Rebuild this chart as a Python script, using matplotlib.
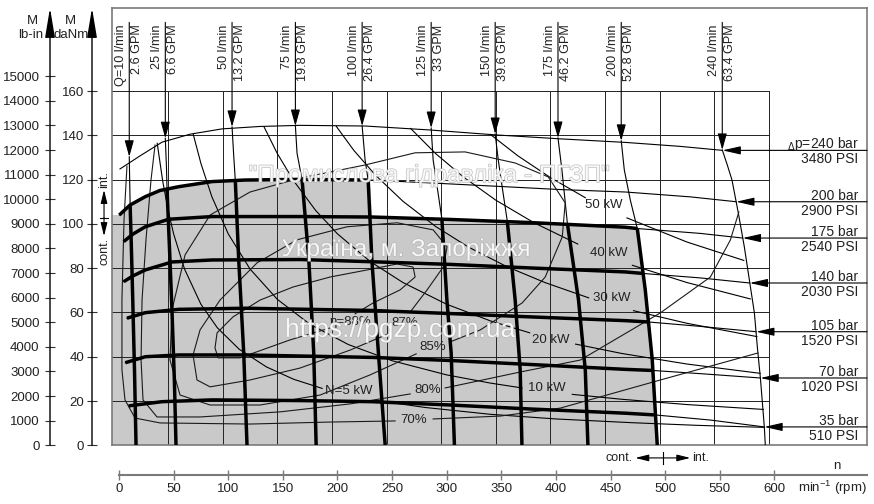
import numpy as np
import matplotlib.pyplot as plt
import matplotlib.patheffects as pe

plt.rcParams['font.family'] = ['Liberation Sans', 'DejaVu Sans']

# ----------------------------- axis values -----------------------------
rpm_ticks = np.arange(0, 601, 50)
danm_ticks = np.arange(0, 161, 20)
lbin_ticks = np.arange(0, 15001, 1000)
grid_rpm = np.arange(45, 596, 50)      # chart grid sits ~5 rpm left of the scale
grid_danm = np.arange(20, 161, 20)
LBIN_PER_DANM = 90

# ---------------------- pressure curves (rpm, daNm) ----------------------
p240 = np.array([(0.9, 124.8), (19.2, 130.7), (39.4, 136.9), (65.0, 140.5), (94.3, 142.9),
                 (129.1, 144.0), (165.8, 144.5), (225.4, 144.2), (284.9, 142.4), (344.4, 140.2),
                 (404.0, 138.4), (463.5, 136.8), (513.9, 135.0), (552.5, 133.2)])
p200 = np.array([(0.3, 104.0), (10.1, 108.5), (24.1, 112.3), (37.6, 115.1), (54.7, 116.8),
                 (85.2, 119.1), (115.4, 119.8), (165.8, 120.1), (229.9, 119.8), (284.9, 118.5),
                 (349.0, 116.9), (404.0, 115.5), (463.5, 114.4), (523.1, 112.2), (565.0, 110.0)])
p175 = np.array([(4.3, 92.0), (12.8, 95.4), (24.1, 98.7), (45.5, 102.1), (85.2, 103.3),
                 (165.8, 103.3), (231.7, 103.1), (303.2, 102.0), (376.5, 100.6), (463.5, 98.5),
                 (474.5, 97.9), (532.2, 95.7), (571.0, 93.6)])
p140 = np.array([(4.3, 73.9), (12.8, 76.5), (24.1, 79.2), (48.5, 82.8), (85.2, 83.7),
                 (165.8, 83.9), (231.7, 82.9), (303.2, 81.7), (376.5, 80.1), (463.5, 78.3),
                 (480.0, 77.6), (532.2, 75.6), (577.4, 73.3)])
p105 = np.array([(7.3, 57.4), (24.1, 59.9), (54.7, 61.4), (115.7, 61.9), (231.7, 60.9),
                 (303.2, 59.5), (376.5, 58.0), (463.5, 56.3), (484.7, 55.7), (532.2, 53.7),
                 (583.3, 51.3)])
p70 = np.array([(5.8, 37.3), (24.1, 40.0), (54.7, 40.8), (115.7, 40.8), (231.7, 39.7),
                (303.2, 38.3), (376.5, 36.5), (463.5, 34.3), (488.8, 33.8), (536.8, 32.2),
                (587.2, 30.4)])
p35 = np.array([(8.9, 17.8), (39.4, 19.7), (85.2, 20.5), (165.8, 20.2), (231.7, 19.7),
                (303.2, 18.2), (376.5, 16.4), (463.5, 14.5), (491.2, 13.7), (541.4, 11.4),
                (590.8, 8.3)])
pressure_curves = [p240, p200, p175, p140, p105, p70, p35]
pressure_thick_end = [None, 229.9, 474.5, 480.0, 484.7, 488.8, 491.2]
bar_labels = [r'$_{\Delta}$p=240 bar', '200 bar', '175 bar', '140 bar', '105 bar', '70 bar',
              '35 bar']
psi_labels = ['3480 PSI', '2900 PSI', '2540 PSI', '2030 PSI', '1520 PSI', '1020 PSI', '510 PSI']

# ------------------------ flow curves (rpm, daNm) ------------------------
q10 = np.array([(9.4, 130.3), (10.2, 108.5), (11.3, 90.0), (12.6, 65.7), (14.2, 33.9), (15.6, 0)])
q25 = np.array([(42.4, 138.7), (43.5, 125.0), (44.0, 115.3), (46.3, 88.2), (48.5, 61.1),
                (50.7, 29.5), (52.2, 0)])
q50 = np.array([(103.5, 143.8), (105.0, 131.0), (106.5, 119.5), (109.6, 83.7), (114.2, 41.7),
                (117.2, 0)])
q75 = np.array([(161.5, 144.2), (163.0, 131.9), (167.6, 120.0), (173.8, 83.7), (178.3, 41.6),
                (180.5, 0)])
q100 = np.array([(222.6, 144.2), (225.3, 128.9), (228.1, 119.8), (229.7, 103.2), (231.5, 83.7),
                 (237.5, 41.7), (243.7, 0)])
q125 = np.array([(285.8, 143.3), (287.6, 128.9), (291.3, 116.7), (295.6, 102.2), (300.2, 65.6),
                 (304.1, 41.7), (307.1, 0)])
q150 = np.array([(344.4, 140.6), (347.2, 128.9), (350.8, 116.7), (355.5, 101.2), (362.7, 65.6),
                 (367.3, 34.0), (368.9, 0)])
q175 = np.array([(401.9, 138.8), (405.5, 124.4), (410.5, 100.2), (420.7, 65.6), (426.9, 34.0),
                 (429.3, 0)])
q200 = np.array([(459.8, 137.5), (462.6, 124.4), (468.1, 110.8), (474.5, 97.9), (481.8, 70.2),
                 (488.2, 38.6), (492.8, 0)])
q240 = np.array([(552.3, 133.4), (556.9, 126.6), (561.2, 119.8), (567.0, 104.9), (572.5, 89.6),
                 (577.1, 74.7), (581.7, 59.8), (584.4, 44.4), (587.2, 30.4), (590.8, 8.3),
                 (591.7, 0)])
flow_curves = [q10, q25, q50, q75, q100, q125, q150, q175, q200, q240]
flow_thick_top = [108.5, 115.3, 119.5, 120.0, 119.8, 102.2, 101.2, 100.2, 97.9, None]
lpm_labels = ['Q=10 l/min', '25 l/min', '50 l/min', '75 l/min', '100 l/min', '125 l/min',
              '150 l/min', '175 l/min', '200 l/min', '240 l/min']
gpm_labels = ['2.6 GPM', '6.6 GPM', '13.2 GPM', '19.8 GPM', '26.4 GPM', '33 GPM',
              '39.6 GPM', '46.2 GPM', '52.8 GPM', '63.4 GPM']

# ----------------- power lines, split where the label sits -----------------
kw5_a = np.array([(35, 136.4), (40, 119.4), (45, 106.1), (50, 95.5), (60, 79.6), (75, 63.7),
                  (90, 53.1), (110, 43.4), (135, 35.4), (160, 29.8), (186, 25.7)])
kw5_b = np.array([(235, 20.3), (280, 17.1), (340, 14.0), (400, 11.9), (470, 10.2), (530, 9.0),
                  (591, 8.1)])
kw10_a = np.array([(68, 140.4), (75, 127.3), (85, 112.3), (100, 95.5), (120, 79.6), (145, 65.9),
                   (175, 54.6), (210, 45.5), (250, 38.2), (300, 31.8), (340, 28.1), (369, 25.9)])
kw10_b = np.array([(415, 23.0), (460, 20.8), (520, 18.4), (590, 16.2)])
kw20_a = np.array([(133, 143.6), (145, 131.7), (160, 119.4), (180, 106.1), (200, 95.5),
                   (230, 83.0), (260, 73.5), (300, 63.7), (340, 56.2), (376, 50.8)])
kw20_b = np.array([(418, 45.7), (460, 41.5), (520, 36.7), (587, 32.5)])
kw30_a = np.array([(199, 144.0), (215, 133.2), (235, 121.9), (260, 110.2), (290, 98.8),
                   (320, 89.5), (355, 80.7), (390, 73.5), (430, 66.6)])
kw30_b = np.array([(471, 60.8), (520, 55.1), (584, 49.1)])
kw40_a = np.array([(267, 143.1), (290, 131.7), (315, 121.3), (345, 110.7), (380, 100.5),
                   (420, 90.9)])
kw40_b = np.array([(470, 81.3), (520, 73.5), (578, 66.1)])
kw50_a = np.array([(340, 140.4), (365, 130.8), (395, 120.9), (427, 111.8)])
kw50_b = np.array([(465, 102.7), (520, 91.8), (572, 83.5)])
power_lines = [kw5_a, kw5_b, kw10_a, kw10_b, kw20_a, kw20_b, kw30_a, kw30_b,
               kw40_a, kw40_b, kw50_a, kw50_b]
power_labels = ['N=5 kW', '10 kW', '20 kW', '30 kW', '40 kW', '50 kW']
power_label_pos = [(210, 24.5), (392, 25.9), (395.7, 47.6), (450.7, 66.4), (448.8, 87.0),
                   (443.8, 108.5)]

# ------------------------- efficiency contours -------------------------
eta88 = np.array([(216.2, 59.4), (232.7, 64.3), (257.4, 70.2), (271.1, 76.0), (269.3, 80.5),
                  (254.6, 81.9), (227.2, 79.2), (193.3, 76.0), (159.4, 71.5), (129.2, 65.6),
                  (104.4, 58.0), (89.8, 50.8), (87.9, 44.0), (90.7, 39.5), (110.8, 39.5),
                  (156.6, 47.6), (193.3, 53.0)])
eta87 = np.array([(266.6, 60.2), (282.1, 70.2), (296.8, 80.5), (300.4, 89.6), (287.6, 97.3),
                  (254.6, 100.5), (208.8, 98.7), (163.0, 92.8), (126.4, 82.4), (92.5, 65.6),
                  (74.2, 52.1), (67.8, 40.8), (71.4, 29.5), (83.4, 26.4), (120.0, 29.5),
                  (165.8, 34.9), (211.6, 43.0), (248.2, 50.7)])
eta85 = np.array([(303.2, 46.7), (330.7, 52.1), (369.1, 64.3), (390.2, 76.0), (405.8, 94.1),
                  (408.5, 109.5), (393.0, 121.2), (362.7, 127.5), (316.9, 132.5), (271.1, 132.1),
                  (225.3, 126.6), (165.8, 120.7), (120.0, 114.4), (83.4, 104.0), (60.5, 86.0),
                  (48.5, 61.1), (46.7, 38.5), (55.9, 22.7), (83.4, 18.2), (129.2, 18.2),
                  (184.1, 22.7), (229.9, 31.8), (272.1, 41.3)])
eta80_a = np.array([(33.0, 135.6), (29.3, 119.8), (24.7, 92.7), (21.1, 65.6), (20.2, 38.5),
                    (22.0, 20.5), (34.8, 12.8), (74.2, 12.8), (147.5, 15.1), (211.6, 18.7),
                    (266.6, 23.2)])
eta80_b = np.array([(298.6, 25.9), (367.3, 33.1), (422.3, 38.5), (495.6, 59.8), (541.4, 76.0),
                    (559.7, 92.7), (567.5, 105.4)])
eta70_a = np.array([(7.3, 126.1), (4.6, 101.8), (2.7, 65.6), (2.7, 34.0), (5.5, 20.5),
                    (14.7, 12.3), (37.6, 10.1), (120.0, 9.6), (193.3, 10.5), (252.8, 11.0)])
eta70_b = np.array([(287.6, 11.9), (349.0, 13.2), (404.0, 16.8), (495.6, 29.5), (585.0, 41.7)])
eta_lines = [eta88, eta87, eta85, eta80_a, eta80_b, eta70_a, eta70_b]
eta_labels = ['η=88%', '87%', '85%', '80%', '70%']
eta_label_pos = [(211.6, 55.7), (262.0, 55.2), (287.6, 44.4), (283.0, 25.0), (269.3, 11.4)]

TXT = '#222222'
THIN, THICK = 0.8, 2.5

fig = plt.figure(figsize=(8.74, 5.04), dpi=100)
W, H = 874, 504

# main chart frame
ax = fig.add_axes([112 / W, 1 - 445.3 / H, 755 / W, 437.3 / H])
ax.set_xlim(-6.4, 684.8)
ax.set_ylim(0, 197.5)
ax.set_xticks([])
ax.set_yticks([])
for s in ax.spines.values():
    s.set_color('#7a7a7a')
    s.set_linewidth(1.2)


def arrow(a, start, end, hl=1.0, hw=0.25, ms=10, lw=0.8):
    a.annotate('', xy=end, xytext=start, annotation_clip=False,
               arrowprops=dict(arrowstyle=f'-|>,head_length={hl},head_width={hw}',
                               color='k', lw=lw, shrinkA=0, shrinkB=0, mutation_scale=ms))


# continuous operation region (gray)
x0 = ax.get_xlim()[0]
top_a = p200[p200[:, 0] <= 229.9]
top_b = p175[(p175[:, 0] >= 231.7) & (p175[:, 0] <= 474.5)]
right = q200[q200[:, 1] <= 97.9]
region = np.vstack([[(x0, 0), (x0, p200[0, 1])], top_a, top_b, right])
ax.fill(region[:, 0], region[:, 1], color='#c9c9c9', lw=0, zorder=1)

# grid
for g in grid_rpm:
    ax.plot([g, g], [0, 160], color='#222', lw=0.7, zorder=2)
for g in grid_danm:
    ax.plot([x0, grid_rpm[-1]], [g, g], color='#222', lw=0.7, zorder=2)

# pressure curves + arrows + labels
for pts, end, bl, pl in zip(pressure_curves, pressure_thick_end, bar_labels, psi_labels):
    ax.plot(pts[:, 0], pts[:, 1], color='k', lw=THIN, zorder=3)
    if end is not None:
        th = pts[pts[:, 0] <= end]
        ax.plot(th[:, 0], th[:, 1], color='k', lw=THICK, zorder=4, solid_capstyle='butt')
    xt, yt = pts[-1]
    arrow(ax, (ax.get_xlim()[1], yt), (xt, yt), hl=1.1, hw=0.25)
    ax.annotate(bl, xy=(677, yt), xytext=(0, 1.5), textcoords='offset points',
                ha='right', va='baseline', fontsize=10, color=TXT, annotation_clip=False)
    ax.annotate(pl, xy=(677, yt), xytext=(0, -1.5), textcoords='offset points',
                ha='right', va='top', fontsize=10, color=TXT, annotation_clip=False)

# flow curves + arrows + rotated labels
Q_TOP = 190.0
for pts, top, lab, gpm in zip(flow_curves, flow_thick_top, lpm_labels, gpm_labels):
    ax.plot(pts[:, 0], pts[:, 1], color='k', lw=THIN, zorder=3)
    if top is not None:
        th = pts[pts[:, 1] <= top]
        ax.plot(th[:, 0], th[:, 1], color='k', lw=THICK, zorder=4, solid_capstyle='butt')
    xq, yq = pts[0]
    arrow(ax, (xq, Q_TOP + 1), (xq, yq), hl=1.0, hw=0.28)
    ax.annotate(lab, xy=(xq, Q_TOP), xytext=(-1.5, 0), textcoords='offset points',
                rotation=90, ha='right', va='top', fontsize=9.1, color=TXT)
    ax.annotate(gpm, xy=(xq, Q_TOP), xytext=(1.5, 0), textcoords='offset points',
                rotation=90, ha='left', va='top', fontsize=9.1, color=TXT)

# power lines
for pts in power_lines:
    ax.plot(pts[:, 0], pts[:, 1], color='k', lw=THIN, zorder=3)
for lab, (px, py) in zip(power_labels, power_label_pos):
    ax.text(px, py, lab, ha='center', va='center', fontsize=9.5, color=TXT, zorder=5)

# efficiency contours
for pts in eta_lines:
    ax.plot(pts[:, 0], pts[:, 1], color='#1a1a1a', lw=THIN, zorder=3)
for lab, (px, py) in zip(eta_labels, eta_label_pos):
    ax.text(px, py, lab, ha='center', va='center', fontsize=9.5, color=TXT, zorder=5)

# cont./int. markers
ax.plot([-17.4, -10.1], [102.8, 102.8], color='k', lw=0.8, clip_on=False)
arrow(ax, (-13.7, 102.8), (-13.7, 115.3), hl=0.8, hw=0.2)
arrow(ax, (-13.7, 102.8), (-13.7, 94.5), hl=0.8, hw=0.2)
ax.text(-13.7, 116, 'int.', rotation=90, ha='center', va='bottom', fontsize=9, color=TXT,
        clip_on=False)
ax.text(-13.7, 93.8, 'cont.', rotation=90, ha='center', va='top', fontsize=9, color=TXT,
        clip_on=False)
ax.plot([498.3, 498.3], [-3.1, -8.3], color='k', lw=0.8, clip_on=False)
arrow(ax, (498.3, -5.7), (472.7, -5.7), hl=0.8, hw=0.2)
arrow(ax, (498.3, -5.7), (523.0, -5.7), hl=0.8, hw=0.2)
ax.text(470.5, -5.7, 'cont.', ha='right', va='center', fontsize=9, color=TXT)
ax.text(525.0, -5.7, 'int.', ha='left', va='center', fontsize=9, color=TXT)

# watermark
wm = dict(color='white', alpha=0.8, zorder=6, ha='center', va='center',
          path_effects=[pe.withStroke(linewidth=1.0, foreground='#b4b4b4')])
ax.text(283, 121.6, '"Промислова гідравліка - ПГЗП"', fontsize=17.5, **wm)
ax.text(262, 88.2, 'Україна, м. Запоріжжя', fontsize=17.5, **wm)
ax.text(257.4, 52.1, 'https://pgzp.com.ua', fontsize=19, **wm)

# bottom rpm scale
axn = fig.add_axes([112 / W, 1 - 475 / H, 755 / W, 0.0001])
axn.set_xlim(ax.get_xlim())
axn.patch.set_visible(False)
for k in ['left', 'right', 'top']:
    axn.spines[k].set_visible(False)
axn.spines['bottom'].set_bounds(0, ax.get_xlim()[1])
axn.spines['bottom'].set_color('#7a7a7a')
axn.spines['bottom'].set_linewidth(1.5)
axn.set_yticks([])
axn.set_xticks(rpm_ticks)
axn.tick_params(axis='x', direction='inout', length=7, width=1.0, color='#7a7a7a',
                labelsize=9.5, labelcolor=TXT, pad=2)

# torque scales on the left
for xpix, lim, ticks in [(92, 197.5, danm_ticks), (50, 197.5 * LBIN_PER_DANM, lbin_ticks)]:
    a = fig.add_axes([xpix / W, 1 - 445.3 / H, 0.0001, 437.3 / H])
    a.set_ylim(0, lim)
    a.patch.set_visible(False)
    for s in a.spines.values():
        s.set_visible(False)
    a.set_xticks([])
    a.set_yticks(ticks)
    a.tick_params(axis='y', direction='inout', length=7, width=0.8, color='#333',
                  labelsize=9.5, labelcolor=TXT, pad=2 if xpix == 92 else 4)
    arrow(a, (0, 0), (0, lim), hl=1.8, hw=0.3, lw=1.0)

fig.text(32 / W, 1 - 21 / H, 'M', ha='center', va='center', fontsize=9.5, color=TXT)
fig.text(31 / W, 1 - 35 / H, 'lb-in', ha='center', va='center', fontsize=9.5, color=TXT)
fig.text(70 / W, 1 - 21 / H, 'M', ha='center', va='center', fontsize=9.5, color=TXT)
fig.text(71 / W, 1 - 35 / H, 'daNm', ha='center', va='center', fontsize=9.5, color=TXT)
fig.text(837 / W, 1 - 466 / H, 'n', ha='center', va='center', fontsize=9.5, color=TXT)
fig.text(867 / W, 1 - 488 / H, r'min$^{\mathregular{-1}}$ (rpm)', ha='right', va='center',
         fontsize=9.5, color=TXT)

fig.savefig('out.png', dpi=100)
